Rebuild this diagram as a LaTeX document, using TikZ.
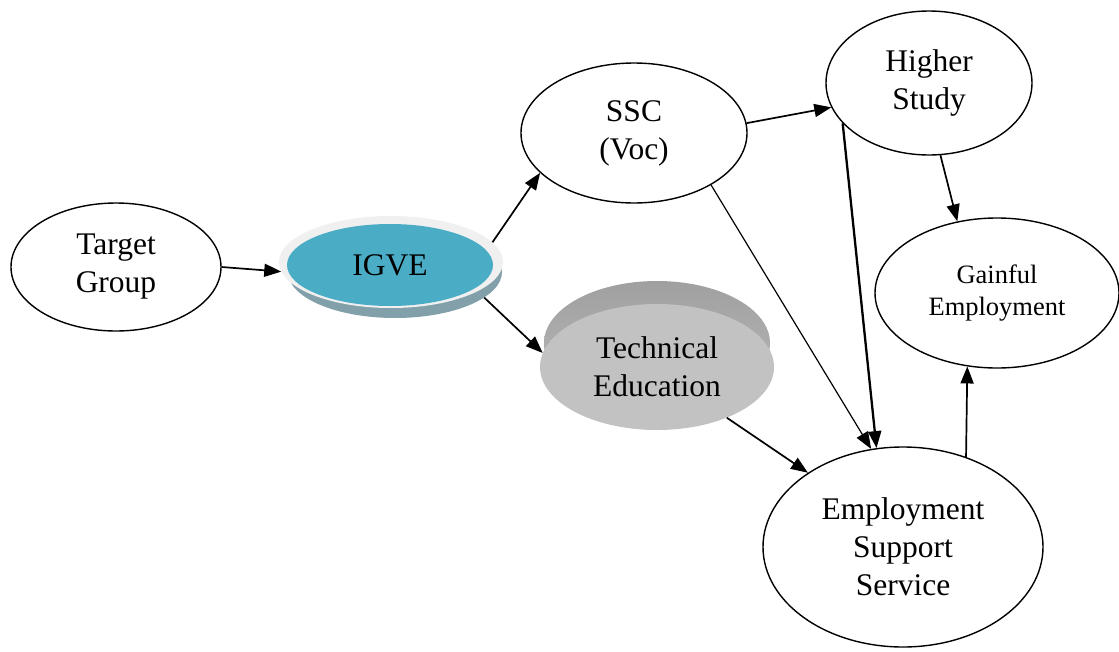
\documentclass[tikz,border=0pt]{standalone}
\usepackage{fontspec}
\setmainfont{Liberation Serif}
\usetikzlibrary{shapes,positioning,calc,arrows.meta}
\definecolor{igveblue}{RGB}{75,172,198}
\definecolor{igverim}{RGB}{240,240,240}
\definecolor{igveshade}{RGB}{130,160,170}
\definecolor{teface}{RGB}{194,194,194}
\definecolor{tebandtop}{RGB}{160,160,160}
\definecolor{tebandbot}{RGB}{185,185,185}
\newcommand{\nodefont}{\fontsize{31.5}{38}\selectfont}
\newcommand{\smallnodefont}{\fontsize{26.5}{32}\selectfont}
\tikzset{
  basic/.style    = {ellipse, inner sep=0pt, align=center, font=\nodefont},
  plain/.style    = {basic, draw, line width=1.4pt, fill=white},
  igvelayer/.style = {basic, minimum width=206pt, minimum height=82pt},
  telayer/.style  = {basic, minimum width=234pt, minimum height=126pt},
  link/.style     = {-{Triangle[length=17pt,width=13pt]}, line width=1.7pt},
  thinlink/.style = {link, line width=1.2pt},
  thicklink/.style = {link, line width=2.3pt}
}

\begin{document}
\begin{tikzpicture}[x=1pt,y=-1pt]
\useasboundingbox (0,0) rectangle (1119,651);
% left column
\node[plain, minimum width=210pt, minimum height=128pt] (tg) at (116,267) {Target\\Group};
% IGVE disc: shadow, rim, face
\node[igvelayer, fill=igveshade, minimum width=214pt, minimum height=92pt] (igveshadow) at (395,272) {};
\node[igvelayer, fill=igverim, minimum width=224pt, minimum height=92pt] (igverim) at (391,262) {};
\node[igvelayer, fill=igveblue] (igve) at (390,265) {IGVE};
% technical education disc
\node[telayer, top color=tebandtop, bottom color=tebandbot, minimum width=226pt, minimum height=124pt] (teband) at (657,343) {};
\node[telayer, fill=teface] (te) at (657,367) {Technical\\Education};
% right part
\node[plain, minimum width=226pt, minimum height=140pt] (ssc) at (634,133) {SSC\\(Voc)};
\node[plain, minimum width=206pt, minimum height=144pt] (hs) at (929,83) {Higher\\Study};
\node[plain, font=\smallnodefont, minimum width=244pt, minimum height=150pt] (ge) at (997,293) {Gainful\\Employment};
\node[plain, minimum width=280pt, minimum height=200pt] (ess) at (903,547) {Employment\\Support\\Service};

\draw[link] (tg.east) -- (igverim.185);
\draw[link] (igverim.11) -- (ssc.203);
\draw[link] (igveshadow.-16) -- (te.173);
\draw[link] (ssc.5) -- (hs.194);
\draw[thinlink] (ssc.-34) -- (ess.108);
\draw[thicklink] (hs.205) -- (ess.105);
\draw[link] (hs.-81) -- (ge.119);
\draw[link] (te.-36) -- (ess.142);
\draw[link] (ess.55) -- (ge.248);
\end{tikzpicture}
\end{document}
